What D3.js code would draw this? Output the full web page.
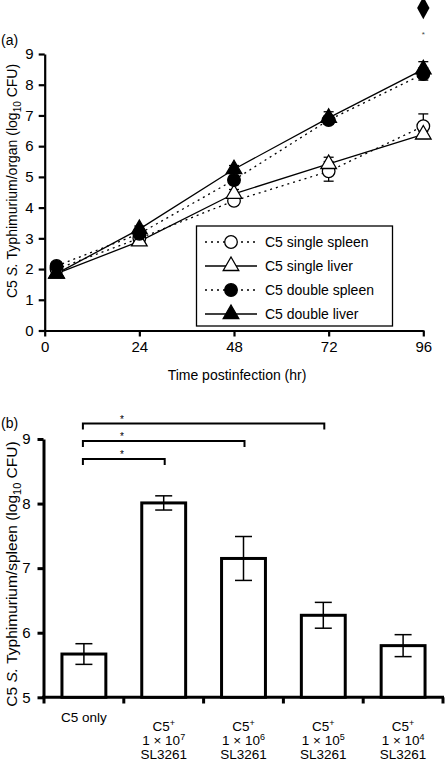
<!DOCTYPE html>
<html><head><meta charset="utf-8">
<script src="https://cdn.jsdelivr.net/npm/d3@7"></script>
<style>
body{margin:0;background:#fff;}
text{font-family:"Liberation Sans",Arial,Helvetica,sans-serif;fill:#000;}
</style></head>
<body><svg id="c" width="446" height="762"></svg>
<script>
// ---- Panel (a) data ----
const hours = [3, 24, 48, 72, 96];
const xTicksA = [0, 24, 48, 72, 96];
const yTicksA = [0,1,2,3,4,5,6,7,8,9];
const seriesNames = ["C5 single spleen","C5 single liver","C5 double spleen","C5 double liver"];
const singleSpleen = [2.0, 3.0, 4.22, 5.18, 6.65];
const singleSpleenErr = [0.1, 0.1, 0.12, 0.32, 0.4];
const singleLiver = [1.85, 2.9, 4.45, 5.42, 6.38];
const singleLiverErr = [0.1, 0.1, 0.14, 0.22, 0.1];
const doubleSpleen = [2.1, 3.15, 4.9, 6.85, 8.35];
const doubleSpleenErr = [0.08, 0.1, 0.15, 0.12, 0.2];
const doubleLiver = [1.85, 3.3, 5.25, 6.92, 8.5];
const doubleLiverErr = [0.08, 0.1, 0.12, 0.2, 0.25];
const diamondPoint = [96, 10.5];
const starPointA = [96, 9.68];

// ---- Panel (b) data ----
const groups = ["C5 only","1e7","1e6","1e5","1e4"];
const groupExp = [null, "7", "6", "5", "4"];
const barValues = [5.67, 8.01, 7.15, 6.27, 5.8];
const barErr = [0.16, 0.11, 0.34, 0.2, 0.17];
const yTicksB = [5,6,7,8,9];
const brackets = [ {to:"1e7", y:8.69}, {to:"1e6", y:8.97}, {to:"1e5", y:9.24} ];

const svg = d3.select("#c");
const FONT = "Liberation Sans, Arial, Helvetica, sans-serif";

// ================= Panel (a) =================
const xA = d3.scaleLinear().domain([0,96]).range([44.7, 423.3]);
const yA = d3.scaleLinear().domain([0,9]).range([330.5, 54]);

const gA = svg.append("g");
const yAxA = gA.append("g").attr("transform","translate(44.7,0)")
  .call(d3.axisLeft(yA).tickValues(yTicksA).tickSize(6).tickSizeOuter(0).tickPadding(5).tickFormat(d3.format("d")));
const xAxA = gA.append("g").attr("transform","translate(0,330.5)")
  .call(d3.axisBottom(xA).tickValues(xTicksA).tickSize(6).tickSizeOuter(0).tickPadding(5).tickFormat(d3.format("d")));
[yAxA,xAxA].forEach(a=>{
  a.attr("font-size",null).attr("font-family",null);
  a.select(".domain").attr("stroke","#000").attr("stroke-width",2.2);
  a.selectAll(".tick line").attr("stroke","#000").attr("stroke-width",2.2);
  a.selectAll("text").style("font-size","15px").style("font-family",FONT);
});

gA.append("text").attr("x",237).attr("y",380).attr("text-anchor","middle").style("font-size","14px")
  .text("Time postinfection (hr)");
const ylA = gA.append("text").attr("transform","translate(17,181) rotate(-90)")
  .attr("text-anchor","middle").style("font-size","14px");
ylA.append("tspan").text("C5 ");
ylA.append("tspan").attr("font-style","italic").text("S.");
ylA.append("tspan").text(" Typhimurium/organ (log");
ylA.append("tspan").style("font-size","10px").attr("dy",4).text("10");
ylA.append("tspan").attr("dy",-4).text(" CFU)");
gA.append("text").attr("x",1).attr("y",45).style("font-size","14px").text("(a)");

const series = [
  {name:seriesNames[0], v:singleSpleen, e:singleSpleenErr, dash:"2,4", shape:"circle", fill:"#fff"},
  {name:seriesNames[1], v:singleLiver, e:singleLiverErr, dash:null, shape:"triangle", fill:"#fff"},
  {name:seriesNames[2], v:doubleSpleen, e:doubleSpleenErr, dash:"2,4", shape:"circle", fill:"#000"},
  {name:seriesNames[3], v:doubleLiver, e:doubleLiverErr, dash:null, shape:"triangle", fill:"#000"}
];
const symC = d3.symbol().type(d3.symbolCircle).size(125);
const symT = d3.symbol().type(d3.symbolTriangle).size(105);
const line = d3.line().x(d=>xA(d[0])).y(d=>yA(d[1]));

series.forEach(s=>{
  gA.append("path").datum(hours.map((h,i)=>[h,s.v[i]]))
    .attr("d",line).attr("fill","none").attr("stroke","#000").attr("stroke-width",1.3)
    .attr("stroke-dasharray",s.dash);
});
series.forEach(s=>{
  hours.forEach((h,i)=>{
    const x=xA(h), y1=yA(s.v[i]+s.e[i]), y0=yA(s.v[i]-s.e[i]);
    const g=gA.append("g").attr("stroke","#000").attr("stroke-width",1.3);
    g.append("line").attr("x1",x).attr("x2",x).attr("y1",y1).attr("y2",y0);
    g.append("line").attr("x1",x-5).attr("x2",x+5).attr("y1",y1).attr("y2",y1);
    g.append("line").attr("x1",x-5).attr("x2",x+5).attr("y1",y0).attr("y2",y0);
  });
});
series.forEach(s=>{
  hours.forEach((h,i)=>{
    gA.append("path").attr("d",(s.shape==="circle"?symC:symT)())
      .attr("transform",`translate(${xA(h)},${yA(s.v[i])})`)
      .attr("fill",s.fill).attr("stroke","#000").attr("stroke-width",1.3);
  });
});
gA.append("path").attr("d",d3.symbol().type(d3.symbolDiamond).size(120)())
  .attr("transform",`translate(${xA(diamondPoint[0])},${yA(diamondPoint[1])}) scale(1.05,1.1)`).attr("fill","#000");
gA.append("text").attr("x",xA(starPointA[0])).attr("y",yA(starPointA[1])+4)
  .attr("text-anchor","middle").style("font-size","8px").style("fill","#444").text("*");

const lg = gA.append("g");
lg.append("rect").attr("x",196.5).attr("y",226).attr("width",196).attr("height",100)
  .attr("fill","#fff").attr("stroke","#000").attr("stroke-width",1.3);
series.forEach((s,i)=>{
  const y = 242 + i*24;
  lg.append("line").attr("x1",205).attr("x2",257).attr("y1",y).attr("y2",y)
    .attr("stroke","#000").attr("stroke-width",1.3).attr("stroke-dasharray",s.dash);
  lg.append("path").attr("d",(s.shape==="circle"?symC:symT)())
    .attr("transform",`translate(231,${y})`).attr("fill",s.fill).attr("stroke","#000").attr("stroke-width",1.3);
  lg.append("text").attr("x",265).attr("y",y+5).style("font-size","14px").text(s.name);
});

// ================= Panel (b) =================
const xB = d3.scaleBand().domain(groups).range([44, 443]).paddingInner(0.45).paddingOuter(0.225);
const yB = d3.scaleLinear().domain([5,9]).range([697.3, 439]);
const gB = svg.append("g");

const yAxB = gB.append("g").attr("transform","translate(43.5,0)")
  .call(d3.axisLeft(yB).tickValues(yTicksB).tickSize(6).tickSizeOuter(0).tickPadding(7).tickFormat(d3.format("d")));
yAxB.attr("font-size",null).attr("font-family",null);
yAxB.select(".domain").attr("stroke","#000").attr("stroke-width",3);
yAxB.selectAll(".tick line").attr("stroke","#000").attr("stroke-width",3);
yAxB.selectAll("text").style("font-size","15px").style("font-family",FONT);

const step = xB.step();
const bounds = groups.map(g=>xB(g) - (step - xB.bandwidth())/2);
bounds.push(bounds[bounds.length-1] + step);
gB.append("line").attr("x1",42).attr("x2",bounds[bounds.length-1]+1).attr("y1",697.3).attr("y2",697.3)
  .attr("stroke","#000").attr("stroke-width",3);
gB.selectAll(".xt").data(bounds).enter().append("line")
  .attr("x1",d=>d).attr("x2",d=>d).attr("y1",697.3).attr("y2",703.5)
  .attr("stroke","#000").attr("stroke-width",3);

gB.selectAll(".bar").data(groups).enter().append("rect")
  .attr("x",d=>xB(d)).attr("width",xB.bandwidth())
  .attr("y",(d,i)=>yB(barValues[i])).attr("height",(d,i)=>yB(5)-yB(barValues[i]))
  .attr("fill","#fff").attr("stroke","#000").attr("stroke-width",3);
groups.forEach((g,i)=>{
  const x = xB(g)+xB.bandwidth()/2, y1=yB(barValues[i]+barErr[i]), y0=yB(barValues[i]-barErr[i]);
  const e = gB.append("g").attr("stroke","#000").attr("stroke-width",1.5);
  e.append("line").attr("x1",x).attr("x2",x).attr("y1",y1).attr("y2",y0);
  e.append("line").attr("x1",x-8.5).attr("x2",x+8.5).attr("y1",y1).attr("y2",y1);
  e.append("line").attr("x1",x-8.5).attr("x2",x+8.5).attr("y1",y0).attr("y2",y0);
});

groups.forEach((g,i)=>{
  const x = xB(g)+xB.bandwidth()/2;
  if(i===0){
    gB.append("text").attr("x",x).attr("y",722).attr("text-anchor","middle").style("font-size","13.5px").text(g);
  } else {
    const t1 = gB.append("text").attr("x",x).attr("y",731).attr("text-anchor","middle").style("font-size","13.5px");
    t1.append("tspan").text("C5");
    t1.append("tspan").style("font-size","9px").attr("dy",-5).text("+");
    const t2 = gB.append("text").attr("x",x).attr("y",745).attr("text-anchor","middle").style("font-size","13.5px");
    t2.append("tspan").text("1 \u00d7 10");
    t2.append("tspan").style("font-size","9px").attr("dy",-5).text(groupExp[i]);
    gB.append("text").attr("x",x).attr("y",758.5).attr("text-anchor","middle").style("font-size","13.5px").text("SL3261");
  }
});

const x0 = xB(groups[0]) + xB.bandwidth()/2 - 1;
brackets.forEach(b=>{
  const x1 = xB(b.to) + xB.bandwidth()/2 + 1, y = yB(b.y);
  gB.append("path").attr("d",`M${x0},${y+6}V${y}H${x1}V${y+6}`)
    .attr("fill","none").attr("stroke","#000").attr("stroke-width",2);
  gB.append("text").attr("x",122).attr("y",y-1).attr("text-anchor","middle").style("font-size","10px").style("fill","#000").text("*");
});

gB.append("text").attr("x",1).attr("y",428).style("font-size","14px").text("(b)");
const ylB = gB.append("text").attr("transform","translate(17,574) rotate(-90)")
  .attr("text-anchor","middle").style("font-size","15.5px");
ylB.append("tspan").text("C5 ");
ylB.append("tspan").attr("font-style","italic").text("S.");
ylB.append("tspan").text(" Typhimurium/spleen (log");
ylB.append("tspan").style("font-size","11px").attr("dy",4).text("10");
ylB.append("tspan").attr("dy",-4).text(" CFU)");
</script></body></html>
